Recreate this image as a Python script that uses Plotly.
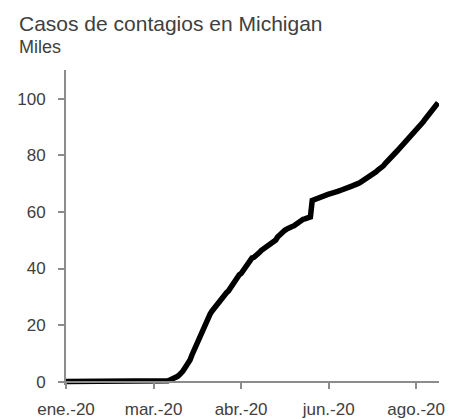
import plotly.graph_objects as go
import pandas as pd

title_text = "Casos de contagios en Michigan"
subtitle_text = "Miles"

start_date = "2020-01-22"

# Cumulative cases (thousands), one value per day from 2020-01-22
zeros_jan_mar = [0, 0, 0, 0, 0, 0, 0, 0, 0, 0,
                 0, 0, 0, 0, 0, 0, 0, 0, 0, 0,
                 0, 0, 0, 0, 0, 0, 0, 0, 0, 0,
                 0, 0, 0, 0, 0, 0, 0, 0, 0, 0,
                 0, 0, 0, 0, 0, 0, 0, 0]
cases_mar = [0.002, 0.002, 0.012, 0.025, 0.033, 0.053, 0.065, 0.083, 0.334, 0.549,
             0.788, 1.035, 1.329, 1.791, 2.294, 2.856, 3.657, 4.650, 5.488, 6.498,
             7.615, 9.334]
cases_apr = [10.791, 12.744, 14.225, 15.718, 17.221, 18.970, 20.346, 21.504, 22.783, 23.9,
             24.9, 25.8, 26.6, 27.4, 28.3, 29.263, 30.023, 30.791, 31.424, 32.000,
             32.967, 33.966, 35.291, 36.641, 37.203, 37.778, 38.210, 39.262, 40.399, 41.379]
cases_may = [42.356, 43.207, 43.754, 43.950, 44.397, 45.054, 45.646, 46.326, 46.756, 47.138,
             47.552, 47.950, 48.391, 48.797, 49.582, 50.079, 51.142, 51.915, 52.350, 53.009,
             53.510, 53.913, 54.365, 54.679, 54.881, 55.104, 55.608, 56.014, 56.638, 57.001,
             57.397]
cases_jun = [57.532, 57.731, 58.035, 58.241, 64.1, 64.4, 64.7, 65.0, 65.2, 65.5,
             65.7, 65.9, 66.1, 66.3, 66.5, 66.6, 66.8, 67.0, 67.3, 67.5,
             67.7, 67.8, 68.0, 68.3, 68.6, 68.9, 69.2, 69.5, 69.6, 70.0]
cases_jul = [70.3, 70.7, 71.2, 71.6, 71.8, 72.1, 72.6, 73.1, 73.7, 74.2,
             74.8, 75.2, 75.7, 76.3, 77.1, 77.9, 78.6, 79.3, 80.0, 80.5,
             81.2, 81.9, 82.6, 83.3, 83.9, 84.4, 85.0, 85.7, 86.5, 87.3,
             88.1]
cases_aug = [89.1, 89.8, 90.4, 91.1, 92.0, 92.9, 93.7, 94.6, 95.3, 96.0,
             96.9, 97.7, 98.6]

cases = zeros_jan_mar + cases_mar + cases_apr + cases_may + cases_jun + cases_jul + cases_aug
dates = pd.date_range(start_date, periods=len(cases), freq="D")

tick_dates = ["2020-01-22", "2020-03-10", "2020-04-27", "2020-06-14", "2020-08-01"]
tick_labels = ["ene.-20", "mar.-20", "abr.-20", "jun.-20", "ago.-20"]
y_ticks = [0, 20, 40, 60, 80, 100]

font_family = "Liberation Sans, Arial, sans-serif"
text_color = "#404040"
axis_color = "#8c8c8c"

y_min, y_max = -1.2, 110.2

fig = go.Figure()
fig.add_trace(go.Scatter(
    x=dates, y=cases, mode="lines",
    line=dict(color="#000000", width=5.5, shape="linear"),
    hoverinfo="skip", showlegend=False,
))

fig.update_layout(
    width=465, height=419,
    margin=dict(l=66, r=26, t=70, b=34),
    paper_bgcolor="white", plot_bgcolor="white",
    font=dict(family=font_family, color=text_color, size=17),
    showlegend=False,
    annotations=[
        dict(text=title_text, x=0, y=1, xref="paper", yref="paper",
             xanchor="left", yanchor="bottom", showarrow=False,
             font=dict(size=21, color=text_color, family=font_family),
             xshift=-49, yshift=33),
        dict(text=subtitle_text, x=0, y=1, xref="paper", yref="paper",
             xanchor="left", yanchor="bottom", showarrow=False,
             font=dict(size=18, color=text_color, family=font_family),
             xshift=-49, yshift=11),
    ],
)

fig.update_xaxes(
    type="date", automargin=False,
    range=[pd.Timestamp(start_date), dates[-1] + pd.Timedelta(hours=12)],
    tickvals=tick_dates, ticktext=tick_labels,
    showgrid=False, zeroline=False,
    showline=True, linecolor=axis_color, linewidth=2,
    ticks="outside", ticklen=6, tickwidth=2, tickcolor=axis_color,
    anchor="free", position=(0 - y_min) / (y_max - y_min),
    ticklabelstandoff=6,
    tickfont=dict(size=17, color=text_color),
)
fig.update_yaxes(
    automargin=False,
    range=[y_min, y_max],
    tickvals=y_ticks,
    showgrid=False, zeroline=False,
    showline=True, linecolor=axis_color, linewidth=2,
    ticks="outside", ticklen=6, tickwidth=2, tickcolor=axis_color,
    ticklabelstandoff=9,
    tickfont=dict(size=17, color=text_color),
)

fig.write_html(
    "out.html",
    config={"displayModeBar": False},
    post_script="document.body.style.margin='0';document.body.style.padding='0';",
)
